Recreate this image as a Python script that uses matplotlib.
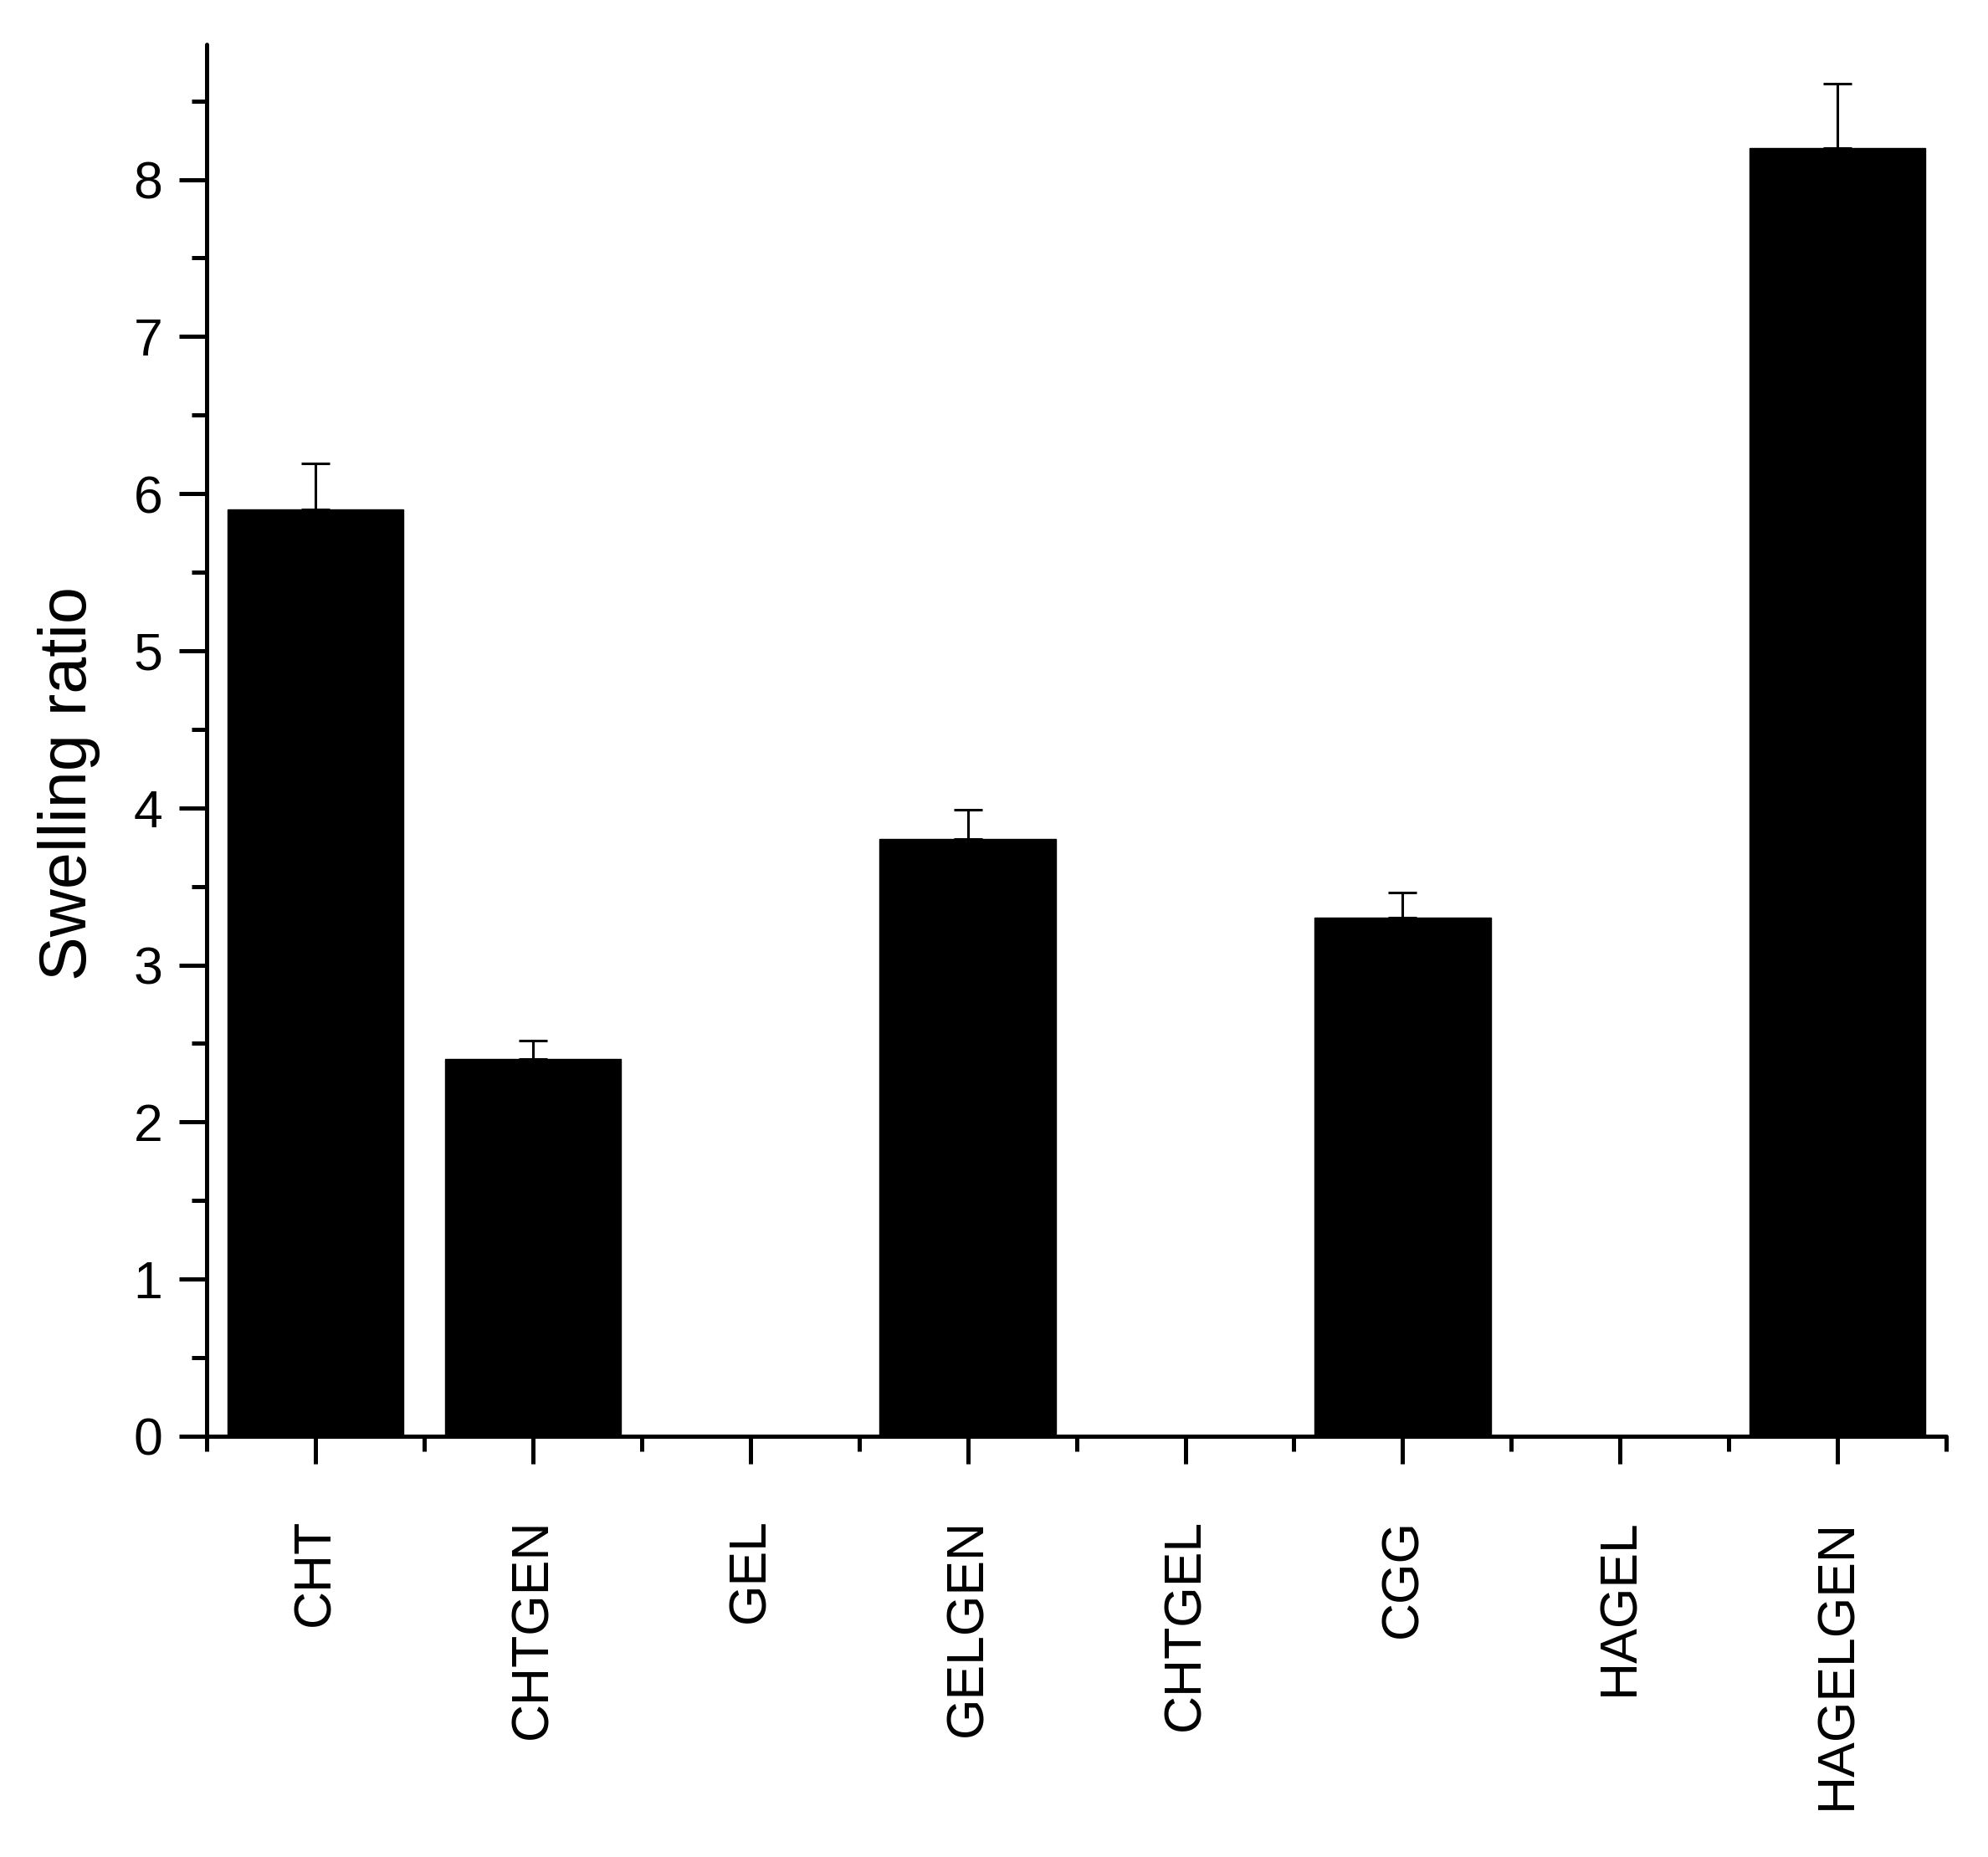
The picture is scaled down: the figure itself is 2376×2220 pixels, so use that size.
import matplotlib
matplotlib.use("Agg")
import matplotlib.pyplot as plt
from matplotlib.ticker import MultipleLocator, FixedLocator
import numpy as np

categories = ["CHT", "CHTGEN", "GEL", "GELGEN", "CHTGEL", "CGG", "HAGEL", "HAGELGEN"]
values = [5.9, 2.4, 0.0, 3.8, 0.0, 3.3, 0.0, 8.2]
errors = [0.29, 0.12, 0.0, 0.19, 0.0, 0.16, 0.0, 0.41]
ytick_values = [0, 1, 2, 3, 4, 5, 6, 7, 8]

plt.rcParams['font.family'] = ['Liberation Sans', 'DejaVu Sans']

fig = plt.figure(figsize=(23.76, 22.2), dpi=100)
ax = fig.add_axes([0.104, 0.2266, 0.875, 0.7495])

x = np.arange(len(categories))
ax.bar(x, values, width=0.81, color='black', edgecolor='black', linewidth=1, zorder=3)
ax.errorbar(x, values, yerr=[np.zeros(len(errors)), errors], fmt='none',
            ecolor='black', elinewidth=2.2, capsize=12, capthick=2.2, zorder=4)

ax.set_xlim(-0.5, 7.5)
ax.set_ylim(0, 8.86)

ax.spines['top'].set_visible(False)
ax.spines['right'].set_visible(False)
for s in ['left', 'bottom']:
    ax.spines[s].set_linewidth(3.6)
    ax.spines[s].set_capstyle('round')
    ax.spines[s].set_zorder(2)

ax.set_xticks(x)
ax.set_xticklabels(categories, rotation=90, fontsize=45)
ax.xaxis.set_minor_locator(FixedLocator(np.arange(-0.5, 8.0, 1.0)))
ax.set_yticks(ytick_values)
ax.set_yticklabels([str(v) for v in ytick_values], fontsize=45)
ax.yaxis.set_minor_locator(MultipleLocator(0.5))

ax.tick_params(axis='both', which='major', length=24, width=3.6, direction='out')
ax.tick_params(axis='both', which='minor', length=13, width=3.6, direction='out')
ax.tick_params(axis='x', which='major', pad=47)
ax.tick_params(axis='y', which='major', pad=14)
for line in ax.get_xticklines() + ax.get_yticklines() + ax.xaxis.get_minorticklines() + ax.yaxis.get_minorticklines():
    line.set_solid_capstyle('round')

ax.set_ylabel("Swelling ratio", fontsize=57)
ax.yaxis.set_label_coords(-0.061, 0.469)

fig.savefig("out.png", dpi=100)
